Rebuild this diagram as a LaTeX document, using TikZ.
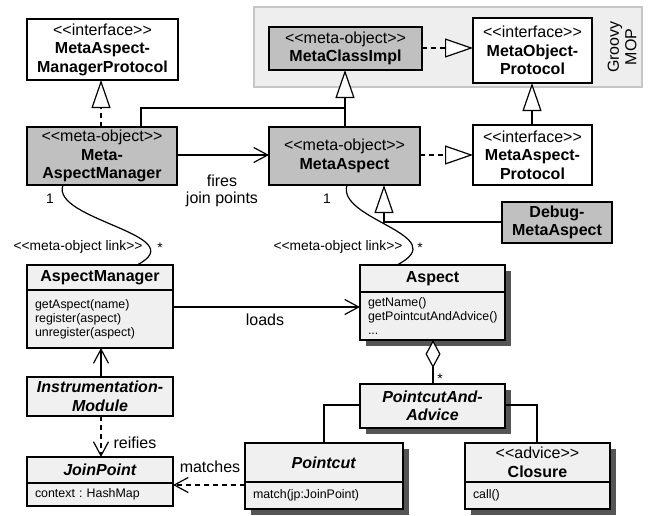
\documentclass[tikz,border=0pt]{standalone}
\usepackage{fontspec}
\setmainfont{Liberation Sans}[Ligatures=TeXOff]
\usetikzlibrary{arrows.meta,calc,backgrounds}
\frenchspacing
\definecolor{metagray}{HTML}{C0C0C0}
\definecolor{lightfill}{HTML}{F0F0F0}
\definecolor{shadowgray}{HTML}{555555}
\definecolor{mopbg}{HTML}{EEEEEE}
\definecolor{mopline}{HTML}{C6C6C6}
\newcommand{\umlHead}{\fontsize{16}{18.5}\selectfont}
\newcommand{\umlMeth}{\fontsize{12.4}{14}\selectfont}
\newcommand{\umlLab}{\fontsize{16}{17.5}\selectfont}
\newcommand{\umlSmall}{\fontsize{13.8}{16}\selectfont}
\tikzset{
  every node/.style={inner sep=0pt, outer sep=0pt},
  umlbox/.style={draw=black, line width=1.2pt, anchor=north west, align=center, font=\umlHead},
  metabox/.style={umlbox, fill=metagray},
  ifacebox/.style={umlbox, fill=white},
  lbox/.style={umlbox, fill=lightfill},
  bodyb/.style={draw=black, line width=1.2pt, fill=lightfill, anchor=north west, align=left, font=\umlMeth, inner xsep=8pt, text width=#1},
  conn/.style={line width=1.2pt},
  gen/.style={conn, -{Triangle[length=28pt,width=19pt,fill=white]}},
  real/.style={gen, dash pattern=on 5pt off 4pt},
  nav/.style={conn, -{Straight Barb[length=14pt,width=15pt]}},
  dnav/.style={nav, dash pattern=on 5pt off 4pt},
  lab/.style={font=\umlLab},
  slab/.style={font=\umlSmall},
  shadowfill/.style={fill=shadowgray}
}
\begin{document}
\begin{tikzpicture}[x=1pt,y=-1pt]
\useasboundingbox (0,0) rectangle (648,515);

% Groovy MOP region
\node[draw=mopline, fill=mopbg, line width=1.2pt, anchor=north west, minimum width=388pt, minimum height=80pt] (mop) at (254,7) {};
\node[lab, rotate=90, align=center] (mopl) at (622,47) {Groovy\\MOP};

% meta level
\node[ifacebox, minimum width=151pt, minimum height=61pt] (mamp) at (27,19) {<<interface>>\\\textbf{MetaAspect-}\\\textbf{ManagerProtocol}};
\node[metabox, minimum width=153pt, minimum height=43pt] (mci) at (269,27) {<<meta-object>>\\\textbf{MetaClassImpl}};
\node[ifacebox, minimum width=119pt, minimum height=65pt] (mopi) at (473,18) {<<interface>>\\\textbf{MetaObject-}\\\textbf{Protocol}};
\node[metabox, minimum width=150pt, minimum height=58pt] (mam) at (27,127) {<<meta-object>>\\\textbf{Meta-}\\\textbf{AspectManager}};
\node[metabox, minimum width=151pt, minimum height=58pt] (ma) at (269,127) {<<meta-object>>\\\textbf{MetaAspect}};
\node[ifacebox, minimum width=119pt, minimum height=60pt] (map) at (473,125) {<<interface>>\\\textbf{MetaAspect-}\\\textbf{Protocol}};
\node[metabox, minimum width=110pt, minimum height=41pt] (dbg) at (502,202) {\textbf{Debug-}\\\textbf{MetaAspect}};

% base level
\node[lbox, minimum width=146pt, minimum height=25pt] (amh) at (27,265) {\textbf{AspectManager}};
\node[bodyb=130pt, minimum height=58pt] (amb) at (amh.south west) {getAspect(name)\\register(aspect)\\unregister(aspect)};
\node[lbox, minimum width=146pt, minimum height=39pt] (im) at (27,377) {\textbf{\textit{Instrumentation-}}\\\textbf{\textit{Module}}};
\node[lbox, minimum width=146pt, minimum height=26pt] (jph) at (27,457) {\textbf{\textit{JoinPoint}}};
\node[bodyb=130pt, minimum height=23pt] (jpb) at (jph.south west) {context : HashMap};

\node[lbox, minimum width=145pt, minimum height=27pt] (asph) at (360,265) {\textbf{Aspect}};
\node[bodyb=129pt, minimum height=48pt] (aspb) at (asph.south west) {getName()\\getPointcutAndAdvice()\\...};
\node[lbox, minimum width=145pt, minimum height=44pt] (pca) at (360,384) {\textbf{\textit{PointcutAnd-}}\\\textbf{\textit{Advice}}};
\node[lbox, minimum width=158pt, minimum height=39pt] (pch) at (245,443) {\textbf{\textit{Pointcut}}};
\node[bodyb=142pt, minimum height=27pt] (pcb) at (pch.south west) {match(jp:JoinPoint)};
\node[lbox, minimum width=145pt, minimum height=39pt] (clh) at (465,443) {<<advice>>\\\textbf{Closure}};
\node[bodyb=129pt, minimum height=27pt] (clb) at (clh.south west) {call()};

% shadows
\begin{scope}[on background layer]
\fill[shadowfill] ($(asph.north west)+(6,6)$) rectangle ($(aspb.south east)+(6,6)$);
\fill[shadowfill] ($(pca.north west)+(6,6)$) rectangle ($(pca.south east)+(6,6)$);
\fill[shadowfill] ($(pch.north west)+(6,6)$) rectangle ($(pcb.south east)+(6,6)$);
\fill[shadowfill] ($(clh.north west)+(6,6)$) rectangle ($(clb.south east)+(6,6)$);
\end{scope}

% helper coordinates
\coordinate (xa) at (101,0);
\coordinate (xb) at (345,0);
\coordinate (xc) at (141,0);
\coordinate (xd) at (532,0);
\coordinate (xe) at (384,0);
\coordinate (xf) at (63,0);
\coordinate (xg) at (137,0);
\coordinate (xh) at (347,0);
\coordinate (xi) at (397,0);
\coordinate (xj) at (433,0);
\coordinate (xk) at (324,0);
\coordinate (xl) at (537,0);
\coordinate (yA) at (0,48);
\coordinate (yB) at (0,155);
\coordinate (yC) at (0,222);
\coordinate (yD) at (0,307);
\coordinate (yE) at (0,485);
\coordinate (yF) at (0,405);
\coordinate (jn) at (345,108);

% meta-level connectors
\draw[real] (mam.north -| xa) -- (mamp.south -| xa);
\draw[gen] (ma.north -| xb) -- (mci.south -| xb);
\draw[conn] (mam.north -| xc) |- (jn);
\draw[real] (mci.east |- yA) -- (mopi.west |- yA);
\draw[real] (ma.east |- yB) -- (map.west |- yB);
\draw[gen] (map.north -| xd) -- (mopi.south -| xd);
\draw[gen] (dbg.west |- yC) -| (ma.south -| xe);
\draw[nav] (mam.east |- yB) -- (ma.west |- yB);
\node[lab, align=center] (firesl) at (222,191) {fires\\join points};

% meta-object links
\draw[conn] (mam.south -| xf) .. controls (50,220) and (195,235) .. (amh.north -| xg);
\draw[conn] (ma.south -| xh) .. controls (336,220) and (455,235) .. (asph.north -| xi);
\node[slab] (one1) at (50,199) {1};
\node[slab] (one2) at (327,199) {1};
\node[slab] (star1) at (160,248) {*};
\node[slab] (star2) at (420,248) {*};
\node[slab] (mol1) at (78,247) {<<meta-object link>>};
\node[slab] (mol2) at (338,247) {<<meta-object link>>};

% base-level connectors
\draw[nav] (amb.east |- yD) -- (aspb.west |- yD);
\node[lab] (loadsl) at (265,320) {loads};
\draw[nav] (im.north -| xa) -- (amb.south -| xa);
\draw[dnav] (im.south -| xa) -- (jph.north -| xa);
\node[lab] (reifl) at (135,443) {reifies};
\draw[dnav] (pcb.west |- yE) -- (jpb.east |- yE);
\node[lab] (matchl) at (210,467) {matches};
\draw[conn, {Diamond[length=28pt,width=15pt,fill=white]}-] (aspb.south -| xj) -- (pca.north -| xj);
\node[slab] (star3) at (440,379) {*};
\draw[conn] (pca.west |- yF) -| (pch.north -| xk);
\draw[conn] (pca.east |- yF) -| (clh.north -| xl);
\end{tikzpicture}
\end{document}
